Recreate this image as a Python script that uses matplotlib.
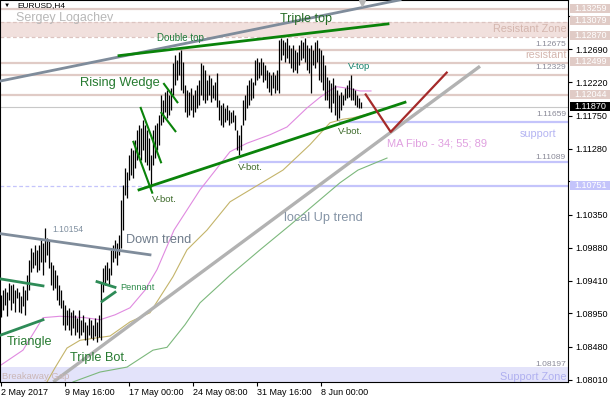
import matplotlib
matplotlib.use('Agg')
import matplotlib.pyplot as plt
import matplotlib.transforms as mtransforms
from matplotlib.patches import Rectangle

plt.rcParams['font.family'] = ['Liberation Sans', 'DejaVu Sans']

# ---------------- data ----------------
highs = [
    1.0921, 1.0928, 1.0931, 1.0925, 1.0938, 1.0935, 1.0937, 1.0928, 1.0931, 1.0925,
    1.0920, 1.0934, 1.0928, 1.0949, 1.0971, 1.0988, 1.0982, 1.0992, 1.0985, 1.0992,
    1.0999, 1.0995, 1.1016, 1.1002, 1.0999, 1.0968, 1.0964, 1.0957, 1.0949, 1.0935,
    1.0928, 1.0914, 1.0907, 1.0900, 1.0903, 1.0897, 1.0900, 1.0893, 1.0888, 1.0900,
    1.0886, 1.0893, 1.0883, 1.0879, 1.0888, 1.0886, 1.0879, 1.0888, 1.0883, 1.0893,
    1.0940, 1.0959, 1.0964, 1.0968, 1.0959, 1.0985, 1.0992, 1.0999, 1.0995, 1.1006,
    1.1056, 1.1077, 1.1101, 1.1095, 1.1119, 1.1129, 1.1126, 1.1141, 1.1155, 1.1162,
    1.1158, 1.1169, 1.1162, 1.1155, 1.1143, 1.1119, 1.1155, 1.1162, 1.1165, 1.1176,
    1.1204, 1.1197, 1.1209, 1.1211, 1.1204, 1.1214, 1.1250, 1.1261, 1.1254, 1.1265,
    1.1268, 1.1251, 1.1218, 1.1211, 1.1209, 1.1214, 1.1204, 1.1211, 1.1218, 1.1226,
    1.1250, 1.1247, 1.1240, 1.1226, 1.1233, 1.1228, 1.1218, 1.1223, 1.1235, 1.1197,
    1.1190, 1.1193, 1.1186, 1.1190, 1.1183, 1.1180, 1.1183, 1.1176, 1.1155, 1.1148,
    1.1162, 1.1197, 1.1204, 1.1218, 1.1226, 1.1228, 1.1223, 1.1254, 1.1257, 1.1251,
    1.1257, 1.1251, 1.1247, 1.1240, 1.1237, 1.1233, 1.1237, 1.1233, 1.1240, 1.1282,
    1.1285, 1.1282, 1.1279, 1.1285, 1.1275, 1.1271, 1.1275, 1.1268, 1.1265, 1.1275,
    1.1282, 1.1279, 1.1285, 1.1275, 1.1271, 1.1275, 1.1268, 1.1279, 1.1282, 1.1271,
    1.1268, 1.1261, 1.1247, 1.1230, 1.1226, 1.1221, 1.1228, 1.1218, 1.1211, 1.1204,
    1.1209, 1.1204, 1.1214, 1.1218, 1.1226, 1.1233, 1.1214, 1.1211, 1.1204, 1.1200,
    1.1194,
]
lows = [
    1.0890, 1.0900, 1.0907, 1.0891, 1.0914, 1.0900, 1.0910, 1.0897, 1.0917, 1.0897,
    1.0896, 1.0906, 1.0893, 1.0914, 1.0928, 1.0954, 1.0959, 1.0964, 1.0954, 1.0957,
    1.0968, 1.0949, 1.0968, 1.0978, 1.0959, 1.0935, 1.0928, 1.0931, 1.0914, 1.0907,
    1.0903, 1.0879, 1.0872, 1.0879, 1.0872, 1.0864, 1.0874, 1.0864, 1.0869, 1.0860,
    1.0864, 1.0869, 1.0857, 1.0850, 1.0864, 1.0860, 1.0857, 1.0863, 1.0855, 1.0862,
    1.0857, 1.0925, 1.0935, 1.0942, 1.0935, 1.0949, 1.0968, 1.0974, 1.0964, 1.0978,
    1.0988, 1.1013, 1.1063, 1.1058, 1.1084, 1.1091, 1.1087, 1.1101, 1.1112, 1.1119,
    1.1112, 1.1126, 1.1109, 1.1105, 1.1098, 1.1074, 1.1105, 1.1115, 1.1126, 1.1134,
    1.1162, 1.1166, 1.1180, 1.1172, 1.1176, 1.1183, 1.1204, 1.1218, 1.1226, 1.1233,
    1.1211, 1.1207, 1.1180, 1.1173, 1.1176, 1.1183, 1.1173, 1.1180, 1.1186, 1.1190,
    1.1204, 1.1197, 1.1193, 1.1197, 1.1204, 1.1194, 1.1200, 1.1197, 1.1187, 1.1169,
    1.1162, 1.1159, 1.1166, 1.1169, 1.1162, 1.1165, 1.1166, 1.1155, 1.1126, 1.1119,
    1.1126, 1.1162, 1.1169, 1.1186, 1.1190, 1.1197, 1.1200, 1.1218, 1.1226, 1.1228,
    1.1233, 1.1223, 1.1226, 1.1214, 1.1209, 1.1204, 1.1214, 1.1207, 1.1211, 1.1207,
    1.1254, 1.1261, 1.1251, 1.1257, 1.1250, 1.1243, 1.1237, 1.1240, 1.1235, 1.1247,
    1.1254, 1.1257, 1.1251, 1.1240, 1.1235, 1.1207, 1.1247, 1.1243, 1.1251, 1.1226,
    1.1223, 1.1211, 1.1197, 1.1197, 1.1186, 1.1180, 1.1193, 1.1176, 1.1169, 1.1172,
    1.1183, 1.1190, 1.1197, 1.1200, 1.1201, 1.1197, 1.1197, 1.1190, 1.1187, 1.1186,
    1.1186,
]

date_ticks = [0, 32, 64, 96, 128, 160]
date_labels = ['2 May 2017', '9 May 16:00', '17 May 00:00', '24 May 08:00',
               '31 May 16:00', '8 Jun 00:00']
price_ticks = [1.08010, 1.08480, 1.08950, 1.09410, 1.09880, 1.10350,
               1.10820, 1.11280, 1.11750, 1.12220, 1.12690, 1.13160]
price_tick_labels = ['1.08010', '1.08480', '1.08950', '1.09410', '1.09880', '1.10350',
                     '', '1.11280', '1.11750', '1.12220', '1.12690', '']

resist_levels = [1.13259, 1.12499, 1.12329, 1.12044]
resist_partial = 1.12675
resist_zone = (1.12870, 1.13079)
support_levels = [1.11659, 1.11089, 1.10751]
support_zone_top = 1.08197
current_price = 1.11870

# moving averages (34, 55, 89) read as key points
ma34_x = [-0.5, 11, 21, 29.5, 42, 49.5, 57, 64.5, 72, 78, 86.5, 99.5, 114.5, 123,
          134.5, 143, 153, 159.5, 164.5, 168, 173, 179.5, 185]
ma34_y = [1.0821, 1.0843, 1.0889, 1.0891, 1.0889, 1.0886, 1.0893, 1.0903, 1.0928,
          1.0957, 1.1013, 1.1070, 1.1124, 1.1136, 1.1148, 1.1159, 1.1186, 1.1201,
          1.1211, 1.1216, 1.1214, 1.1210, 1.1210]
ma55_x = [23, 27, 33, 39.5, 54.5, 64.5, 74.5, 86, 93, 103, 114.5, 141, 154.5,
          164.5, 171, 176, 189.5]
ma55_y = [1.0798, 1.0818, 1.0846, 1.0857, 1.0863, 1.0883, 1.0896, 1.0947, 1.0985,
          1.1013, 1.1053, 1.1098, 1.1134, 1.1165, 1.1170, 1.1172, 1.1182]
ma89_x = [36, 49.5, 63, 76, 83, 92, 99.5, 114.5, 129.5, 144.5, 159.5, 169.5, 178.5, 193]
ma89_y = [1.0798, 1.0812, 1.0819, 1.0843, 1.0847, 1.0879, 1.0910, 1.0949, 1.0985,
          1.1020, 1.1056, 1.1080, 1.1098, 1.1115]

# trend lines (bar index, price)
slate_top_x, slate_top_y = [-0.5, 199.5], [1.1224, 1.1339]
green_top_x, green_top_y = [59, 193.5], [1.1260, 1.1305]
green_bot_x, green_bot_y = [69, 202], [1.1070, 1.1194]
down_x, down_y = [-0.5, 74.5], [1.1008, 1.0978]
tri_up_x, tri_up_y = [-0.5, 21], [1.0944, 1.0934]
tri_lo_x, tri_lo_y = [-0.5, 21], [1.0864, 1.0886]
pen_up_x, pen_up_y = [48, 57], [1.0940, 1.0932]
pen_lo_x, pen_lo_y = [50.5, 57], [1.0912, 1.0925]
wedge_a_x, wedge_a_y = [69.85, 80], [1.1186, 1.1109]
wedge_b_x, wedge_b_y = [66.2, 75.6], [1.1138, 1.1066]
wedge_c_x, wedge_c_y = [81.5, 88.2], [1.1220, 1.1194]
wedge_d_x, wedge_d_y = [80.2, 87.2], [1.1179, 1.1153]
forecast_x, forecast_y = [182.35, 194.85, 222.85], [1.1205, 1.1152, 1.1236]
upt_x, upt_y = [26.15, 239.5], [1.0798, 1.1245]

# ---------------- figure ----------------
W, H = 610, 400
fig = plt.figure(figsize=(W / 100, H / 100), dpi=100)
ax = fig.add_axes([0, 18 / H, 568 / W, 382 / H])
ax.set_xlim(-0.5, 283.5)
ax.set_ylim(1.07979, 1.13388)
ax.set_facecolor('white')

PINK = '#e0cbc6'
LAV = '#c4c4fb'
bt = mtransforms.blended_transform_factory(ax.transAxes, ax.transData)

# zones
ax.axhspan(resist_zone[0], resist_zone[1], color='#f1e0dd', zorder=0.5, lw=0)
for lv in resist_zone:
    ax.axhline(lv, color='#dcc4c0', lw=0.9, ls=(0, (3, 2)), zorder=0.6)
ax.axhspan(1.07979, support_zone_top, color='#e3e3fa', zorder=0.5, lw=0)

for lv in resist_levels:
    ax.axhline(lv, color=PINK, lw=1.6, zorder=0.7)
ax.plot([88, 283.5], [resist_partial, resist_partial], color=PINK, lw=1.6, zorder=0.7)
ax.axhline(current_price, color='#c8c8c8', lw=0.8, zorder=0.7)
ax.plot([169.5, 283.5], [support_levels[0]] * 2, color=LAV, lw=1.6, zorder=0.7)
ax.plot([119.5, 283.5], [support_levels[1]] * 2, color=LAV, lw=1.6, zorder=0.7)
ax.plot([74.5, 283.5], [support_levels[2]] * 2, color=LAV, lw=1.6, zorder=0.7)
ax.plot([-0.5, 74.5], [support_levels[2]] * 2, color=LAV, lw=0.9, ls=(0, (3, 2)), zorder=0.7)

# moving averages
ax.plot(ma34_x, ma34_y, color='#e08ae0', lw=0.8, zorder=1)
ax.plot(ma55_x, ma55_y, color='#c4b46a', lw=0.8, zorder=1)
ax.plot(ma89_x, ma89_y, color='#7cb87c', lw=0.8, zorder=1)

# local up trend
ax.plot(upt_x, upt_y, color='#b2b2b2', lw=2.4, zorder=1.2, solid_capstyle='butt')

# bars
ax.vlines(range(len(highs)), lows, highs, colors='black', lw=0.9, zorder=2)

# trend lines
ax.plot(slate_top_x, slate_top_y, color='#7f8c9b', lw=2.0, zorder=3)
ax.plot(down_x, down_y, color='#7f8c9b', lw=2.0, zorder=3)
ax.plot(green_top_x, green_top_y, color='#0a830a', lw=2.0, zorder=3)
ax.plot(green_bot_x, green_bot_y, color='#0a830a', lw=2.0, zorder=3)
for xs, ys in [(tri_up_x, tri_up_y), (tri_lo_x, tri_lo_y), (pen_up_x, pen_up_y), (pen_lo_x, pen_lo_y)]:
    ax.plot(xs, ys, color='#2e8b57', lw=2.0, zorder=3)
for xs, ys in [(wedge_a_x, wedge_a_y), (wedge_b_x, wedge_b_y), (wedge_c_x, wedge_c_y), (wedge_d_x, wedge_d_y)]:
    ax.plot(xs, ys, color='#0a830a', lw=1.5, zorder=3)
ax.plot(forecast_x, forecast_y, color='#a52a2a', lw=1.6, zorder=3)
ax.plot([180.5], [1.1334], marker='v', color='#b8b8b8', ms=5, zorder=3)

# texts
def t(x, y, s, color, size, ha='left', **kw):
    ax.text(x, y, s, color=color, fontsize=size, ha=ha, va='center', zorder=5, **kw)

t(8, 1.13305, 'EURUSD,H4', 'black', 6.0)
t(2.75, 1.13305, '\u25bc', 'black', 4.5, ha='center')
t(7.5, 1.13135, 'Sergey Logachev', '#b8b8b8', 9.0)
t(152.5, 1.1312, 'Triple top', '#246b24', 9, ha='center')
t(78, 1.1285, 'Double top', '#1f7a3a', 7)
t(179, 1.1244, 'V-top', '#12806a', 6.8, ha='center')
t(168.5, 1.1153, 'V-bot.', '#3d6a2a', 6.8)
t(118.5, 1.1102, 'V-bot.', '#3d6a2a', 6.8)
t(75.5, 1.1057, 'V-bot.', '#3d6a2a', 6.8)
t(39.5, 1.1221, 'Rising Wedge', '#267a30', 9.3)
t(3, 1.0855, 'Triangle', '#267a30', 9.2)
t(34.5, 1.0832, 'Triple Bot.', '#267a30', 9.2)
t(62.5, 1.0999, 'Down trend', '#6e7b8a', 9.2)
t(59.5, 1.0932, 'Pennant', '#2e8b4b', 6.6)
t(25.5, 1.1014, '1.10154', '#8090a0', 6.2)
t(141.5, 1.1030, 'local Up trend', '#8594a6', 9.2)
t(193, 1.1136, 'MA Fibo - 34; 55; 89', '#e0a0e0', 8)
t(283, 1.1298, 'Resistant Zone', '#d4b6ae', 7.8, ha='right')
t(283, 1.1261, 'resistant', '#d4b6ae', 7.8, ha='right')
t(282.5, 1.1276, '1.12675', '#8a8a98', 6.1, ha='right')
t(282.5, 1.1243, '1.12329', '#8a8a98', 6.1, ha='right')
t(282.5, 1.1176, '1.11659', '#8a8a98', 6.1, ha='right')
t(277.5, 1.1149, 'support', '#b4b4f2', 7.8, ha='right')
t(282.5, 1.1116, '1.11089', '#8a8a98', 6.1, ha='right')
t(282.5, 1.0822, '1.08197', '#8a8a98', 6.1, ha='right')
t(283, 1.0805, 'Support Zone', '#b0b0f0', 7.8, ha='right')
t(0.5, 1.0805, 'Breakaway Gap', '#cbb6b6', 6.8)

# axes styling
for sp in ax.spines.values():
    sp.set_color('black')
    sp.set_linewidth(0.8)
ax.yaxis.tick_right()
ax.set_yticks(price_ticks)
ax.set_yticklabels(price_tick_labels)
ax.tick_params(axis='y', direction='out', length=3, width=0.8, labelsize=6.5, pad=2, colors='black')
ax.set_xticks(date_ticks)
ax.set_xticklabels(date_labels)
ax.tick_params(axis='x', direction='out', length=3, width=0.8, labelsize=6.5, pad=1.5)
for lab in ax.get_xticklabels():
    lab.set_ha('left')

# price boxes on the axis
box_h = 9 * (1.13388 - 1.07979) / 382
boxes = [(1.13259, PINK, 'white'), (1.13079, PINK, 'white'), (1.12870, PINK, 'white'),
         (1.12499, PINK, 'white'), (1.12044, PINK, 'white'), (1.11870, 'black', 'white'),
         (1.10751, LAV, 'white')]
for price, fc, tc in boxes:
    r = Rectangle((1.0 + 1.5 / 568, price - box_h / 2 + 0.00012), 41 / 568, box_h,
                  transform=bt, facecolor=fc, edgecolor='none', clip_on=False, zorder=10)
    ax.add_patch(r)
    ax.text(1.0 + 6 / 568, price + 0.00012, f'{price:.5f}', transform=bt, color=tc,
            fontsize=6.5, ha='left', va='center', clip_on=False, zorder=11)

fig.savefig('out.png', dpi=100)
